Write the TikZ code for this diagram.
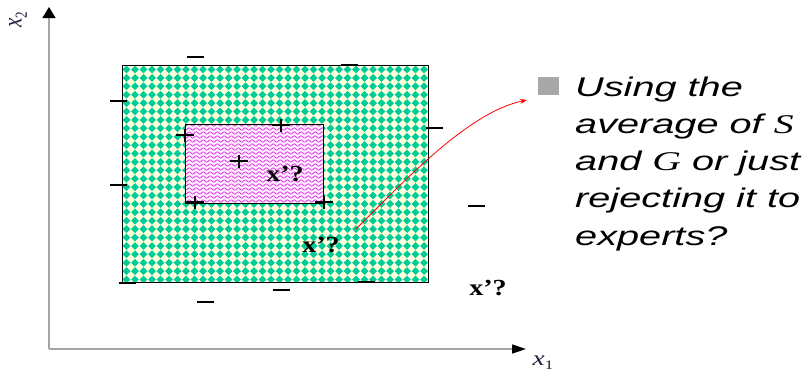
\documentclass[tikz,border=0pt]{standalone}
\usepackage{fontspec}
\usepackage{graphicx}
\setmainfont{Liberation Sans}
\newfontfamily\tms{Liberation Serif}
\usetikzlibrary{arrows.meta}
\definecolor{grn}{RGB}{0,204,153}
\definecolor{ylw}{RGB}{255,255,222}
\definecolor{pnk}{RGB}{255,238,255}
\definecolor{mag}{RGB}{222,60,222}
\definecolor{axg}{RGB}{165,165,165}
\definecolor{bul}{RGB}{168,168,168}
\definecolor{lab}{RGB}{30,30,60}
\newcommand{\wide}[1]{\scalebox{1.47}[1]{#1}}
\newcommand{\qwide}[1]{\scalebox{1.22}[1]{#1}}
\newcommand{\axvar}[1]{{\tms\itshape x}\raisebox{-4pt}{\fontsize{13}{13}\selectfont\tms #1}}
\begin{document}
\begin{tikzpicture}[x=1pt,y=-1pt,
  axisline/.style={draw=axg, line width=1.5pt},
  minus/.style={line width=2pt, black},
  plusmark/.style={line width=1.4pt, black},
  txt/.style={font=\fontsize{27}{27}\selectfont\itshape, anchor=base west, inner sep=0pt},
  qlab/.style={font=\fontsize{23}{23}\selectfont\tms\bfseries, anchor=base, inner sep=0pt},
  axlab/.style={font=\fontsize{21}{21}\selectfont, text=lab, inner sep=0pt},
  region/.style={draw=black, line width=0.9pt}]
\useasboundingbox (0,0) rectangle (805,372);
\fill[white] (0,0) rectangle (805,372);

% outer region with diamond pattern
\fill[ylw] (122,65) rectangle (428,282);
\begin{scope}
  \clip (122,65) rectangle (428,282);
  \foreach \i in {0,...,35} {
    \foreach \j in {0,...,25} {
      \fill[grn] ({126.5+8.5*\i-3.9},{69.5+8.4*\j}) -- ++(3.9,-3.9) -- ++(3.9,3.9) -- ++(-3.9,3.9) -- cycle;
    }
  }
\end{scope}
\draw[region] (122,65) rectangle (428,282);

% inner region with wavy pattern
\fill[pnk] (185,124) rectangle (323,203);
\begin{scope}
  \clip (185,124) rectangle (323,203);
  \foreach \yy in {125,129,...,205} {
    \draw[mag, line width=0.8pt] plot[domain=0:140, samples=100, smooth] ({184+\x},{\yy+1.2*sin(\x*51.43)});
  }
\end{scope}
\draw[region] (185,124) rectangle (323,203);

% axes
\coordinate (O) at (49,349);
\coordinate (Y) at (49,7);
\coordinate (X) at (526,349);
\draw[axisline, {Triangle[length=11pt,width=13pt,fill=black,color=black]}-] (Y) -- (O);
\draw[axisline, -{Triangle[length=14pt,width=9pt,fill=black,color=black]}] (O) -- (X);
\node[axlab, rotate=90] (lx2) at (18,20) {\scalebox{1}[1.3]{\axvar{2}}};
\node[axlab] (lx1) at (543,363) {\scalebox{1.3}[1]{\axvar{1}}};

% minus marks
\foreach \mx/\my in {187/57, 341/65, 110/101, 110/185, 119/283, 426/128, 273/290, 197/302, 358/282, 468/206} {
  \draw[minus] (\mx,\my) -- ++(16.5,0);
}

% plus marks
\foreach \px/\py in {185/135, 281/125, 239/161, 195/202, 324/202} {
  \draw[plusmark] (\px-9,\py) -- (\px+9,\py);
  \draw[plusmark] (\px,\py-6.5) -- (\px,\py+6.5);
}

% query labels
\node[qlab] (q1) at (285,181) {\qwide{x’?}};
\node[qlab] (q2) at (321,252) {\qwide{x’?}};
\node[qlab] (q3) at (488,295) {\qwide{x’?}};

% red arrow
\coordinate (ra) at (356,229);
\coordinate (rb) at (527,100);
\draw[red, line width=0.8pt, -{Stealth[length=7pt,width=5pt]}] (ra) .. controls (410,175) and (470,112) .. (rb);

% bullet and text
\fill[bul] (538,77) rectangle (559,95);
\node[txt] (t1) at (575,96) {\wide{Using the}};
\node[txt] (t2) at (575,133.3) {\wide{average of {\tms S}}};
\node[txt] (t3) at (575,170.5) {\wide{and {\tms G} or just}};
\node[txt] (t4) at (575,207.8) {\wide{rejecting it to}};
\node[txt] (t5) at (575,245) {\wide{experts?}};
\end{tikzpicture}
\end{document}
